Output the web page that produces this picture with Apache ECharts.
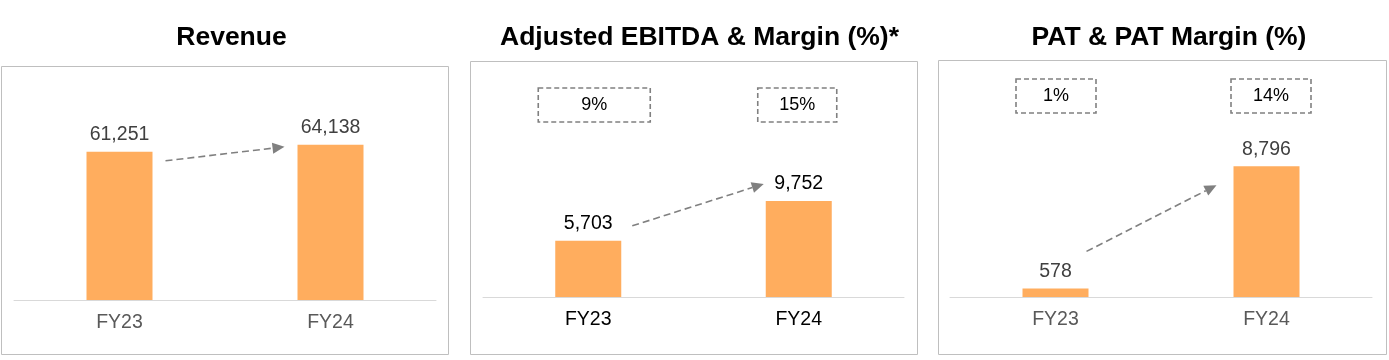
<!DOCTYPE html>
<html>
<head>
<meta charset="utf-8">
<script src="https://cdn.jsdelivr.net/npm/echarts@6/dist/echarts.min.js"></script>
<style>
html,body{margin:0;padding:0;background:#fff;}
#c{width:1389px;height:360px;}
</style>
</head>
<body>
<div id="c"></div>
<script>
const categories = ['FY23', 'FY24'];
const titles = ['Revenue', 'Adjusted EBITDA & Margin (%)*', 'PAT & PAT Margin (%)'];
const revenue = [61251, 64138];
const ebitda = [5703, 9752];
const ebitdaMargin = ['9%', '15%'];
const pat = [578, 8796];
const patMargin = ['1%', '14%'];

const FONT = '"Liberation Sans", Arial, sans-serif';
const BAR = '#FFAD5E';
const values = [revenue, ebitda, pat];
const margins = [null, ebitdaMargin, patMargin];

// layout
const grids = [
  {left: 14, width: 422, top: 58, height: 242, max: 100000},
  {left: 483, width: 421, top: 100, height: 197, max: 20000},
  {left: 950, width: 422, top: 74, height: 223, max: 15000}
];
const panels = [
  {x: 1, y: 66, w: 447, h: 288, tx: 231.5},
  {x: 470, y: 61, w: 447, h: 293, tx: 699.5},
  {x: 938, y: 60, w: 448, h: 294, tx: 1169}
];
const valueColor = ['#404040', '#000000', '#404040'];
const axisColor = ['#595959', '#000000', '#595959'];

const fmt = v => Number(v).toLocaleString('en-US');

const chart = echarts.init(document.getElementById('c'), null, {renderer: 'canvas'});

const option = {
  animation: false,
  backgroundColor: '#ffffff',
  title: titles.map((t, i) => ({
    text: t,
    left: panels[i].tx,
    top: 24,
    padding: 0,
    textAlign: 'center',
    textStyle: {fontFamily: FONT, fontSize: 26.5, fontWeight: 'bold', color: '#000'}
  })),
  grid: grids.map(g => ({left: g.left, width: g.width, top: g.top, height: g.height, containLabel: false})),
  xAxis: grids.map((g, i) => ({
    type: 'category',
    gridIndex: i,
    data: categories,
    axisLine: {lineStyle: {color: '#d9d9d9', width: 1}},
    axisTick: {show: false},
    axisLabel: {fontFamily: FONT, fontSize: 19.5, color: axisColor[i], margin: 13}
  })),
  yAxis: grids.map((g, i) => ({
    type: 'value', gridIndex: i, min: 0, max: g.max, show: false, splitLine: {show: false}
  })),
  series: values.map((vals, i) => ({
    type: 'bar',
    xAxisIndex: i,
    yAxisIndex: i,
    data: vals,
    barWidth: 66,
    itemStyle: {color: BAR},
    label: {
      show: true, position: 'top', distance: 7,
      fontFamily: FONT, fontSize: 19.5, color: valueColor[i],
      formatter: p => fmt(p.value)
    }
  }))
};
chart.setOption(option);

// annotations relative to bar geometry
const arrowOffsets = [
  {s: [46, 9], e: [-46, 2]},
  {s: [44, -15], e: [-35, -17]},
  {s: [31, -37], e: [-50, 19]}
];
const boxLayout = [
  null,
  {y: 88, h: 34, boxes: [{dx: 6, w: 112}, {dx: -1.5, w: 79}], color: '#000'},
  {y: 79, h: 34, boxes: [{dx: 0.5, w: 80}, {dx: 4.5, w: 80}], color: '#000'}
];

const graphics = [];
panels.forEach(p => {
  graphics.push({
    type: 'rect', z: -1, silent: true,
    shape: {x: p.x + 0.5, y: p.y + 0.5, width: p.w, height: p.h},
    style: {fill: 'none', stroke: '#bfbfbf', lineWidth: 1}
  });
});

values.forEach((vals, i) => {
  const p0 = chart.convertToPixel({gridIndex: i}, [categories[0], vals[0]]);
  const p1 = chart.convertToPixel({gridIndex: i}, [categories[1], vals[1]]);
  const o = arrowOffsets[i];
  const sx = p0[0] + o.s[0], sy = p0[1] + o.s[1];
  const ex = p1[0] + o.e[0], ey = p1[1] + o.e[1];
  const ang = Math.atan2(ey - sy, ex - sx);
  const L = 12, Hw = 5.5;
  const bx = ex - L * Math.cos(ang), by = ey - L * Math.sin(ang);
  graphics.push({
    type: 'line', silent: true,
    shape: {x1: sx, y1: sy, x2: bx, y2: by},
    style: {stroke: '#808080', lineWidth: 1.6, lineDash: [7, 4]}
  });
  graphics.push({
    type: 'polygon', silent: true,
    shape: {points: [
      [ex, ey],
      [bx - Hw * Math.sin(ang), by + Hw * Math.cos(ang)],
      [bx + Hw * Math.sin(ang), by - Hw * Math.cos(ang)]
    ]},
    style: {fill: '#808080'}
  });

  const bl = boxLayout[i];
  if (bl) {
    [p0, p1].forEach((pp, k) => {
      const b = bl.boxes[k];
      const cx = pp[0] + b.dx;
      graphics.push({
        type: 'rect', silent: true,
        shape: {x: cx - b.w / 2, y: bl.y, width: b.w, height: bl.h},
        style: {fill: 'none', stroke: '#808080', lineWidth: 1.6, lineDash: [5, 3]}
      });
      graphics.push({
        type: 'text', silent: true,
        x: cx, y: bl.y + bl.h / 2,
        style: {text: margins[i][k], fontFamily: FONT, fontSize: 18, fill: bl.color, align: 'center', verticalAlign: 'middle'}
      });
    });
  }
});

chart.setOption({graphic: graphics});
</script>
</body>
</html>
